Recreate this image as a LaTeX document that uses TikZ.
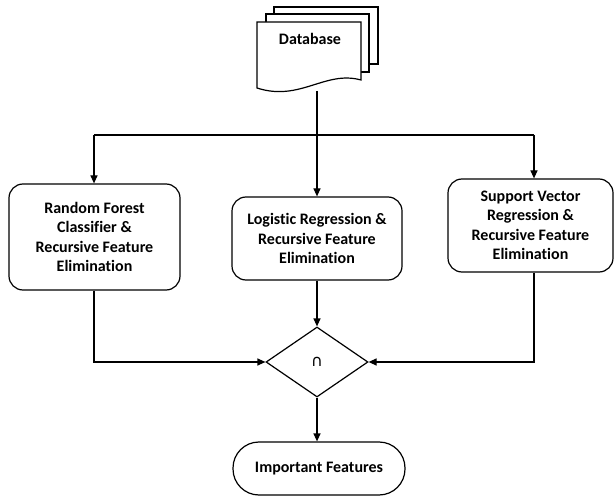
\documentclass[tikz,border=0pt]{standalone}
\usepackage{fontspec}
\setmainfont[Ligatures=NoCommon]{Carlito}
\newfontfamily\symfont{DejaVu Sans}
\usetikzlibrary{shapes.geometric,arrows.meta}
\begin{document}
\begin{tikzpicture}[x=1pt,y=-1pt,
  line width=1.2pt,
  arr/.style={-{Triangle[length=8pt,width=7pt]}},
  txt/.style={font=\bfseries\fontsize{16}{19.5}\selectfont},
  proc/.style={draw,rounded corners=14pt,align=center,inner sep=0pt,txt},
  term/.style={draw,rounded corners=26pt,align=center,inner sep=0pt,txt},
  dec/.style={draw,diamond,inner sep=0pt,minimum width=102pt,minimum height=70pt,
    font=\symfont\fontsize{16}{18}\selectfont}]
\useasboundingbox (0,0) rectangle (616,497);
% database stack
\draw[fill=white] (274,7) rectangle (378,64);
\draw[fill=white] (266,14) rectangle (369,72);
\draw[fill=white] (257,22) -- (361,22) -- (361,80)
  .. controls (325,70) and (300,102) .. (257,88) -- cycle;
\node[txt] (db) at (310,39) {Database};
\coordinate (dbb) at (317,91);
% processes
\node[proc,minimum width=171pt,minimum height=106pt] (rf) at (94.5,237) {Random Forest\\Classifier \&\\Recursive Feature\\Elimination};
\node[proc,minimum width=170pt,minimum height=83pt] (lr) at (317,238.5) {Logistic Regression \&\\Recursive Feature\\Elimination};
\node[proc,minimum width=165pt,minimum height=93pt] (svr) at (530.5,225.5) {Support Vector\\Regression \&\\Recursive Feature\\Elimination};
\node[dec] (dia) at (317,362) {∩};
\node[term,minimum width=172pt,minimum height=53pt] (imp) at (319,468.5) {Important Features};
% connectors
\coordinate (sl) at (94,135);
\coordinate (sr) at (534,135);
\draw (sl) -- (sr);
\draw[arr] (dbb) -- (dbb |- lr.north);
\draw[arr] (sl) -- (sl |- rf.north);
\draw[arr] (sr) -- (sr |- svr.north);
\draw[arr] (sl |- rf.south) |- (dia.west);
\draw[arr] (lr.south -| dbb) -- (dia.north);
\draw[arr] (sr |- svr.south) |- (dia.east);
\draw[arr] (dia.south) -- (dia.south |- imp.north);
\end{tikzpicture}
\end{document}
